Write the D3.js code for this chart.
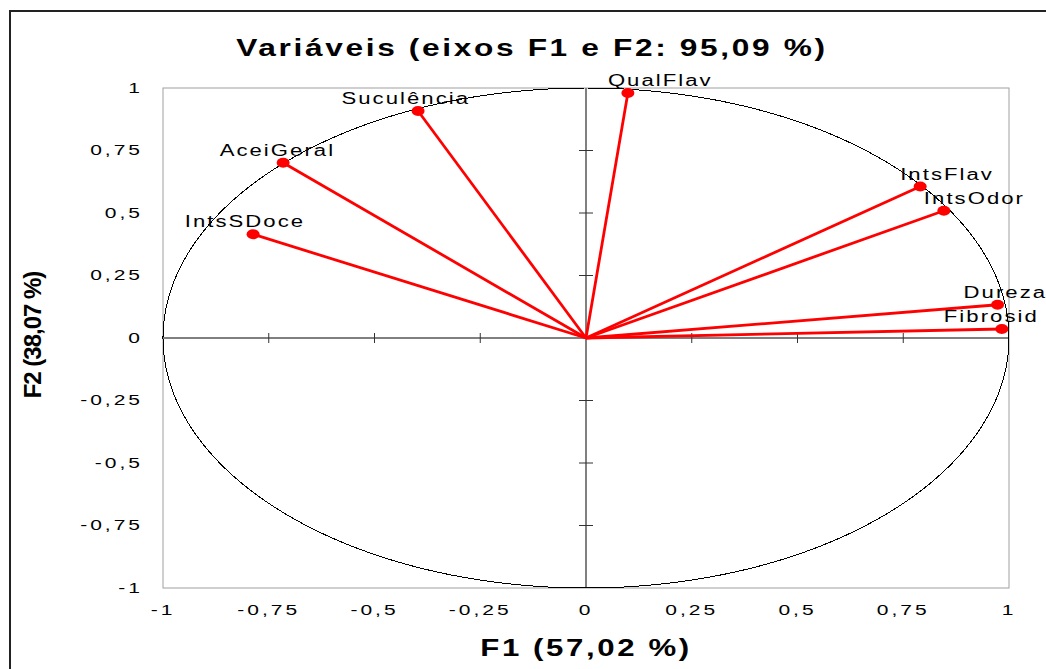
<!DOCTYPE html>
<html lang="pt">
<head>
   <meta charset="UTF-8">
   <title>Variáveis (eixos F1 e F2)</title>
   <style>
      body { margin: 0; background: white; overflow: hidden; }
      text { font-family: "Liberation Sans", Arial, sans-serif; fill: black; }
      .bold { font-weight: bold; }
   </style>
   <script src="https://cdn.jsdelivr.net/npm/d3@7"></script>
</head>
<body>
   <div class="d3"></div>
   <script>
      // data (last label is cut to what the picture shows)
      const variables = ['QualFlav', 'Suculência', 'AceiGeral', 'IntsSDoce', 'IntsFlav', 'IntsOdor', 'Dureza', 'Fibrosid']
      const f1 = [0.099, -0.397, -0.716, -0.787, 0.790, 0.846, 0.973, 0.983]
      const f2 = [0.980, 0.908, 0.701, 0.415, 0.606, 0.509, 0.133, 0.036]
      const ticks = [-1, -0.75, -0.5, -0.25, 0, 0.25, 0.5, 0.75, 1]
      const title = 'Variáveis (eixos F1 e F2: 95,09 %)'
      const xTitle = 'F1 (57,02 %)'
      const yTitle = 'F2 (38,07 %)'

      const W = 1046, H = 669
      const svg = d3.select('.d3').append('svg')
         .attr('width', W)
         .attr('height', H)

      // outer frame (runs off the right and bottom of the picture)
      svg.append('rect')
         .attr('x', 10).attr('y', 11)
         .attr('width', 1100).attr('height', 700)
         .attr('fill', 'none')
         .attr('stroke', '#222')
         .attr('stroke-width', 2)

      const x = d3.scaleLinear().domain([-1, 1]).range([163, 1009])
      const y = d3.scaleLinear().domain([-1, 1]).range([588, 88])

      const fmt = v => String(v).replace('.', ',')

      // text stretched sideways like the original export
      function addText(g, px, py, str, opts) {
         const t = g.append('g')
            .attr('transform', `translate(${px},${py})`)
            .append('text')
            .attr('transform', `scale(${opts.sx || 1},1)`)
            .attr('font-size', opts.size)
            .attr('letter-spacing', opts.ls || 0)
            .attr('text-anchor', opts.anchor || 'start')
            .text(str)
         if (opts.bold) t.attr('class', 'bold')
         if (opts.dy) t.attr('dy', opts.dy)
         return t
      }

      // plot area border
      svg.append('rect')
         .attr('x', x(-1)).attr('y', y(1))
         .attr('width', x(1) - x(-1)).attr('height', y(-1) - y(1))
         .attr('fill', 'none')
         .attr('stroke', '#a0a0a0')
         .attr('stroke-width', 1)

      // zero axes with ticks
      const axes = svg.append('g').attr('stroke', '#808080').attr('stroke-width', 2)
      axes.append('line').attr('x1', x(-1)).attr('x2', x(1)).attr('y1', y(0)).attr('y2', y(0))
      axes.append('line').attr('x1', x(0)).attr('x2', x(0)).attr('y1', y(-1)).attr('y2', y(1))
      const tg = svg.append('g').attr('stroke', '#333').attr('stroke-width', 1)
      ticks.filter(t => Math.abs(t) < 1 && t !== 0).forEach(t => {
         tg.append('line').attr('x1', x(t)).attr('x2', x(t)).attr('y1', y(0) - 5).attr('y2', y(0) + 5)
         tg.append('line').attr('x1', x(0) - 7).attr('x2', x(0) + 7).attr('y1', y(t)).attr('y2', y(t))
      })

      // unit circle
      const circle = d3.range(0, 361, 1).map(a => [Math.cos(a * Math.PI / 180), Math.sin(a * Math.PI / 180)])
      svg.append('path')
         .attr('d', d3.line().x(d => x(d[0])).y(d => y(d[1]))(circle))
         .attr('fill', 'none')
         .attr('stroke', 'black')
         .attr('stroke-width', 1)
         .attr('shape-rendering', 'crispEdges')

      // tick labels
      const labels = svg.append('g')
      ticks.forEach(t => {
         addText(labels, x(t), 615, fmt(t), { size: 14, sx: 1.5, ls: 2, anchor: 'middle' })
         addText(labels, 143, y(t), fmt(t), { size: 14, sx: 1.5, ls: 2, anchor: 'end', dy: '0.35em' })
      })

      // vectors
      const pts = variables.map((name, i) => ({ name, x: f1[i], y: f2[i] }))
      svg.append('g').selectAll('line')
         .data(pts)
         .enter()
         .append('line')
            .attr('x1', x(0)).attr('y1', y(0))
            .attr('x2', d => x(d.x)).attr('y2', d => y(d.y))
            .attr('stroke', '#ff0000')
            .attr('stroke-width', 2.8)

      svg.append('g').selectAll('ellipse')
         .data(pts)
         .enter()
         .append('ellipse')
            .attr('cx', d => x(d.x)).attr('cy', d => y(d.y))
            .attr('rx', 6.5).attr('ry', 5)
            .attr('fill', '#ff0000')

      // point labels (left side: end-anchored, right side: start-anchored, nudged near the edge)
      const nudge = { Dureza: -14, Fibrosid: -38 }
      const pl = svg.append('g')
      pts.forEach(d => {
         const px = x(d.x), py = y(d.y) - 7
         if (d.x < 0) addText(pl, px + 52, py, d.name, { size: 16, sx: 1.38, ls: 1.5, anchor: 'end' })
         else addText(pl, px - 20 + (nudge[d.name] || 0), py, d.name, { size: 16, sx: 1.38, ls: 1.5 })
      })

      // titles
      addText(svg, 532, 56, title, { size: 24, sx: 1.32, ls: 2, anchor: 'middle', bold: true })
      addText(svg, 586, 656, xTitle, { size: 24, sx: 1.3, ls: 2, anchor: 'middle', bold: true })
      svg.append('text')
         .attr('class', 'bold')
         .attr('transform', `translate(41,335) rotate(-90)`)
         .attr('font-size', 24)
         .attr('letter-spacing', -1)
         .attr('text-anchor', 'middle')
         .text(yTitle)
   </script>
</body>
</html>
